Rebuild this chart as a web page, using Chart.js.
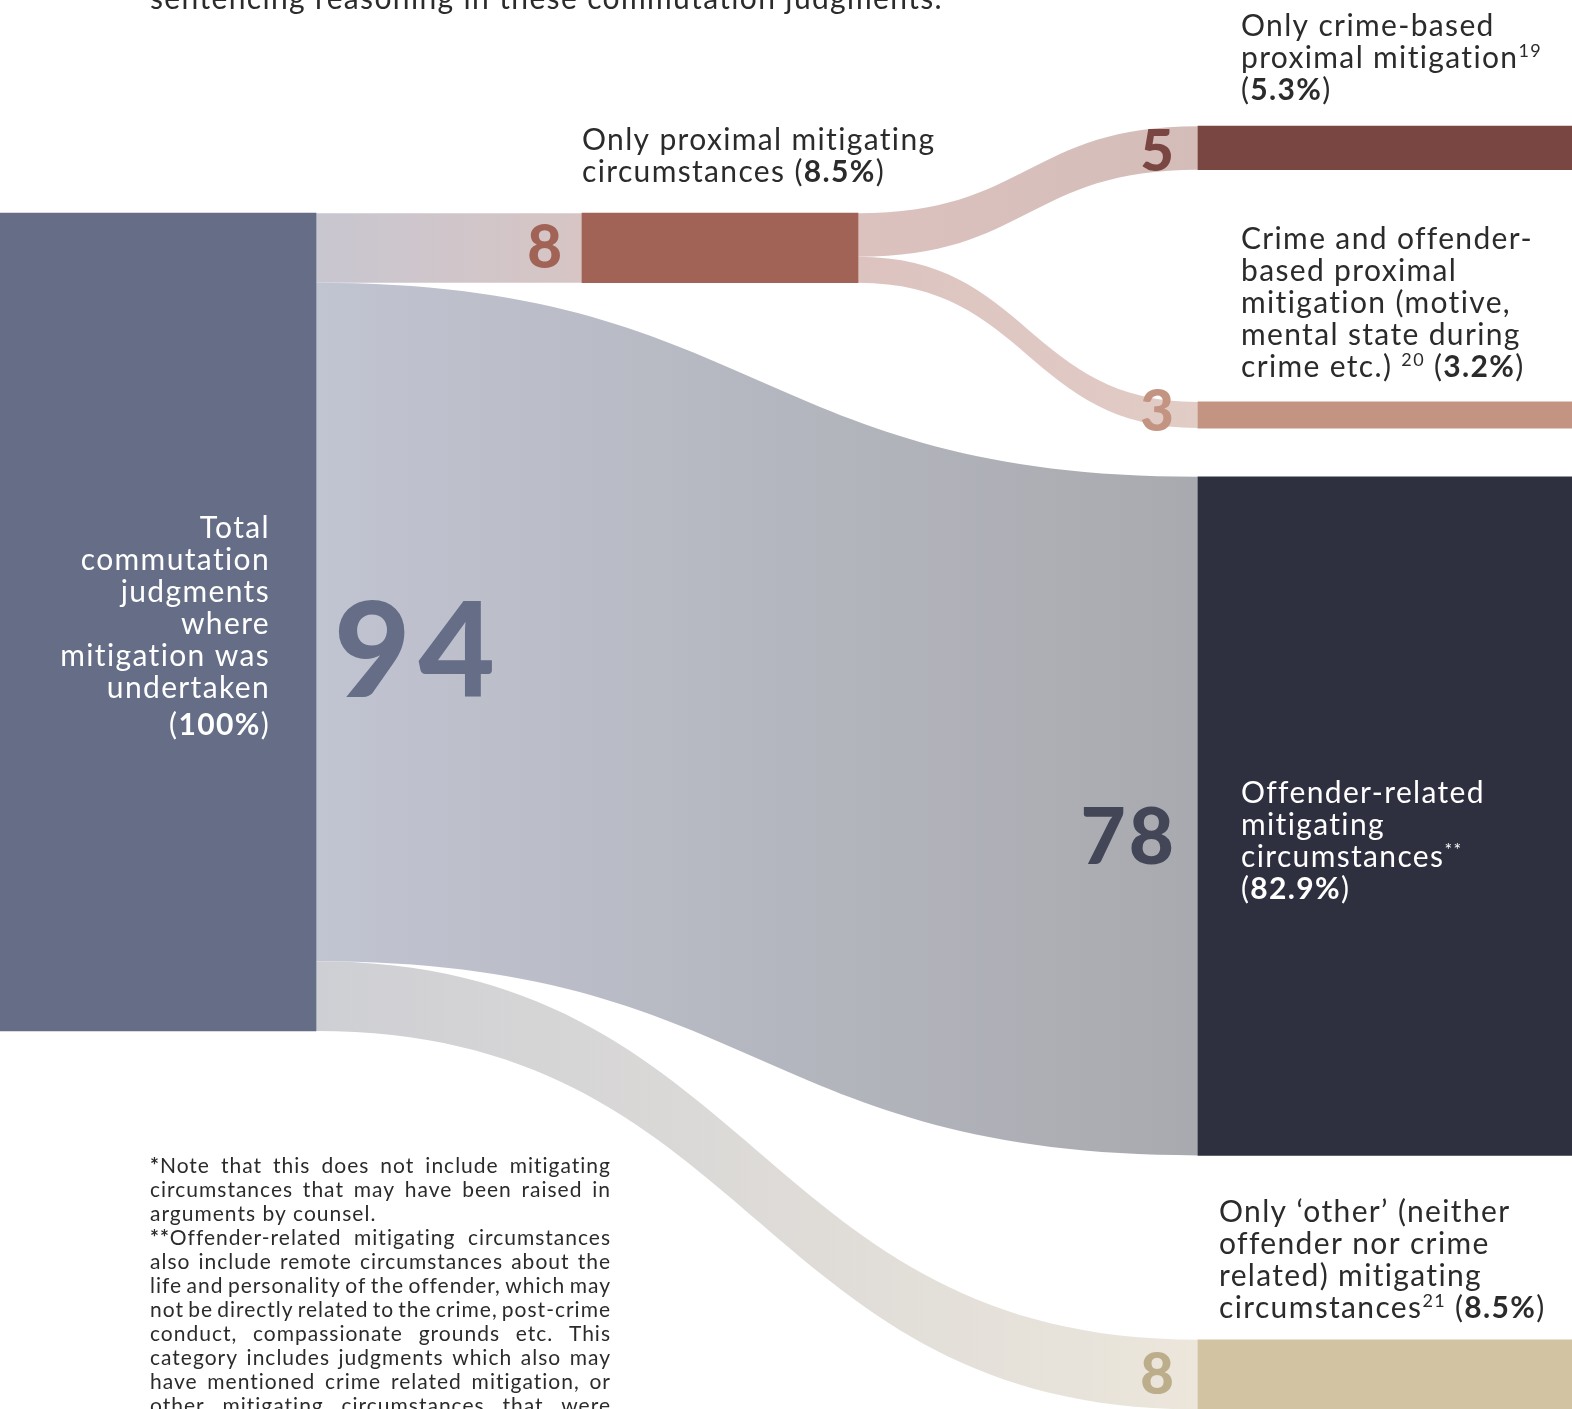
<!DOCTYPE html>
<html>
<head>
<meta charset="utf-8">
<script src="https://cdn.jsdelivr.net/npm/chart.js@4.4.1/dist/chart.umd.min.js"></script>
<style>
  html, body { margin: 0; padding: 0; background: #fff; overflow: hidden; }
  #wrap { position: relative; width: 1572px; height: 1409px; }
</style>
</head>
<body>
<div id="wrap"><canvas id="sankey"></canvas></div>
<script>
// ---- data ----
const nodeNames = [
  "Total commutation judgments where mitigation was undertaken",
  "Only proximal mitigating circumstances",
  "Only crime-based proximal mitigation",
  "Crime and offender-based proximal mitigation",
  "Offender-related mitigating circumstances",
  "Only other mitigating circumstances",
];
const nodeValues = [94, 8, 5, 3, 78, 8];
const flowFrom = [0, 0, 0, 1, 1];
const flowTo = [1, 4, 5, 2, 3];
const flowValues = [8, 78, 8, 5, 3];

// ---- layout (positions in count units / layout units) ----
const nodeColumn = [0, 1, 2, 2, 2, 2];
const nodeTop = [0, 0, -10, 21.7, 30.3, 129.5];
const columnLeft = [0, 582, 1198];
const columnWidth = [316, 276, 374];
const yRange = [-24.5, 137.45];

// ---- styles ----
const nodeColors = ["#656d87", "#a26357", "#7a4642", "#c49482", "#2e3040", "#d2c4a2"];
const flowColors = [
  ["#c8c6d0", "#d7c5c4"],
  ["#c1c4d1", "#a9aaaf"],
  ["#cecfd4", "#ece6db"],
  ["#dbc2be", "#d4bcb9"],
  ["#dcc3bf", "#e2ccc6"],
];
const numberColors = ["#656d87", "#a26357", "#7a4642", "#c49482", "#424656", "#bcae8a"];
const numberSize = [132, 60, 58, 58, 78, 58];
const numberSpacing = [8, 0, 0, 0, 3, 0];
const numberDy = [26, -2, 2, -5, 19, -2];

const FONT = "Lato";
const NUM_FONT = "Lato";
const TEXT = "#2b2b2b";

const labels = [
  { x: 150, y: 9, align: "left", color: TEXT, lines: ["sentencing reasoning in these commutation judgments."] },
  { x: 582, y: 150, align: "left", color: TEXT, lines: ["Only proximal mitigating", "circumstances (<b>8.5%</b>)"] },
  { x: 1241, y: 36, align: "left", color: TEXT, lines: ["Only crime-based", "proximal mitigation<sup>19</sup>", "(<b>5.3%</b>)"] },
  { x: 1241, y: 249, align: "left", color: TEXT, lines: ["Crime and offender-", "based proximal", "mitigation (motive,", "mental state during", "crime etc.) <sup>20</sup> (<b>3.2%</b>)"] },
  { x: 270, y: 538, align: "right", color: "#ffffff", lines: ["Total", "commutation", "judgments", "where", "mitigation was", "undertaken", "(<b>100%</b>)"], lastGap: 5 },
  { x: 1241, y: 803, align: "left", color: "#ffffff", lines: ["Offender-related", "mitigating", "circumstances<sup>**</sup>", "(<b>82.9%</b>)"] },
  { x: 1219, y: 1222, align: "left", color: TEXT, lines: ["Only ‘other’ (neither", "offender nor crime", "related) mitigating", "circumstances<sup>21</sup> (<b>8.5%</b>)"] },
];

const footnote = [
  ["*Note that this does not include mitigating", true],
  ["circumstances that may have been raised in", true],
  ["arguments by counsel.", false],
  ["**Offender-related mitigating circumstances", true],
  ["also include remote circumstances about the", true],
  ["life and personality of the offender, which may", true],
  ["not be directly related to the crime, post-crime", true],
  ["conduct, compassionate grounds etc. This", true],
  ["category includes judgments which also may", true],
  ["have mentioned crime related mitigation, or", true],
  ["other mitigating circumstances that were", true],
];

const LABEL_SIZE = 30;
const LABEL_SPACING = "1.35px";
const NOTE_SPACING = "1px";
const LINE_H = 32;

function parseRich(line) {
  const out = [];
  const re = /<(b|sup)>(.*?)<\/\1>/g;
  let last = 0, m;
  while ((m = re.exec(line))) {
    if (m.index > last) out.push({ t: line.slice(last, m.index), s: "" });
    out.push({ t: m[2], s: m[1] });
    last = re.lastIndex;
  }
  if (last < line.length) out.push({ t: line.slice(last), s: "" });
  return out;
}

function segFont(s, size) {
  if (s === "b") return "700 " + size + "px " + FONT;
  if (s === "sup") return "400 " + Math.round(size * 0.6) + "px " + FONT;
  return "400 " + size + "px " + FONT;
}

function drawRich(ctx, line, x, y, align, size, color) {
  const segs = parseRich(line);
  ctx.letterSpacing = LABEL_SPACING;
  let total = 0;
  segs.forEach(sg => {
    ctx.font = segFont(sg.s, size);
    sg.w = ctx.measureText(sg.t).width;
    total += sg.w;
  });
  let cx = align === "right" ? x - total : x;
  ctx.fillStyle = color;
  ctx.textAlign = "left";
  ctx.textBaseline = "alphabetic";
  segs.forEach(sg => {
    ctx.font = segFont(sg.s, size);
    ctx.fillText(sg.t, cx, sg.s === "sup" ? y - size * 0.38 : y);
    cx += sg.w;
  });
  ctx.letterSpacing = "0px";
}

function drawJustified(ctx, text, x, y, width, justify, size) {
  ctx.letterSpacing = NOTE_SPACING;
  const words = text.split(" ");
  const parts = words.map(w => {
    const m = w.match(/^(\*+)(.*)$/);
    return m ? [[m[1], true], [m[2], false]] : [[w, false]];
  });
  const widths = parts.map(p => p.reduce((acc, [t, b]) => {
    ctx.font = (b ? "700 " : "400 ") + size + "px " + FONT;
    return acc + ctx.measureText(t).width;
  }, 0));
  ctx.font = "400 " + size + "px " + FONT;
  const spaceW = ctx.measureText(" ").width;
  const sum = widths.reduce((a, b) => a + b, 0);
  const gap = justify && words.length > 1 ? (width - sum) / (words.length - 1) : spaceW;
  let cx = x;
  parts.forEach(p => {
    p.forEach(([t, b]) => {
      ctx.font = (b ? "700 " : "400 ") + size + "px " + FONT;
      ctx.fillText(t, cx, y);
      cx += ctx.measureText(t).width;
    });
    cx += gap;
  });
  ctx.letterSpacing = "0px";
}

const sankeyFlows = {
  id: "sankeyFlows",
  beforeDatasetsDraw(chart) {
    const { ctx, scales: { x, y } } = chart;
    const outOff = nodeValues.map(() => 0);
    const inOff = nodeValues.map(() => 0);
    ctx.save();
    flowValues.forEach((v, k) => {
      const s = flowFrom[k], t = flowTo[k];
      const cs = nodeColumn[s], ct = nodeColumn[t];
      const x0 = x.getPixelForValue(columnLeft[cs] + columnWidth[cs]);
      const x1 = x.getPixelForValue(columnLeft[ct]);
      const s0 = y.getPixelForValue(nodeTop[s] + outOff[s]);
      const s1 = y.getPixelForValue(nodeTop[s] + outOff[s] + v);
      const t0 = y.getPixelForValue(nodeTop[t] + inOff[t]);
      const t1 = y.getPixelForValue(nodeTop[t] + inOff[t] + v);
      outOff[s] += v;
      inOff[t] += v;
      const xm = (x0 + x1) / 2;
      const g = ctx.createLinearGradient(x0, 0, x1, 0);
      g.addColorStop(0, flowColors[k][0]);
      g.addColorStop(1, flowColors[k][1]);
      ctx.fillStyle = g;
      ctx.beginPath();
      ctx.moveTo(x0, s0);
      ctx.bezierCurveTo(xm, s0, xm, t0, x1, t0);
      ctx.lineTo(x1, t1);
      ctx.bezierCurveTo(xm, t1, xm, s1, x0, s1);
      ctx.closePath();
      ctx.fill();
    });
    ctx.restore();
  },
  afterDatasetsDraw(chart) {
    const { ctx, scales: { x, y } } = chart;
    ctx.save();
    // node numbers
    nodeValues.forEach((v, i) => {
      const c = nodeColumn[i];
      const cy = y.getPixelForValue(nodeTop[i] + v / 2) + numberDy[i];
      ctx.font = "900 " + numberSize[i] + "px " + NUM_FONT;
      ctx.letterSpacing = numberSpacing[i] + "px";
      ctx.fillStyle = numberColors[i];
      ctx.textBaseline = "alphabetic";
      ctx.textAlign = "left";
      const txt = String(v);
      const m = ctx.measureText(txt);
      const w = m.width - numberSpacing[i];
      const base = cy + m.actualBoundingBoxAscent / 2;
      let left;
      if (c === 0) {
        left = x.getPixelForValue(columnLeft[c] + columnWidth[c]) + 18;
      } else {
        left = x.getPixelForValue(columnLeft[c]) - (c === 1 ? 20 : 24) - w;
      }
      ctx.fillText(txt, left, base);
      ctx.letterSpacing = "0px";
    });
    // labels
    labels.forEach(lb => {
      lb.lines.forEach((line, j) => {
        let yy = lb.y + j * LINE_H;
        if (lb.lastGap && j === lb.lines.length - 1) yy += lb.lastGap;
        drawRich(ctx, line, lb.x, yy, lb.align, LABEL_SIZE, lb.color);
      });
    });
    // footnote
    ctx.fillStyle = TEXT;
    ctx.textAlign = "left";
    footnote.forEach(([text, just], j) => {
      drawJustified(ctx, text, 150, 1173 + j * 24, 461, just, 21);
    });
    ctx.restore();
  }
};

const datasets = columnLeft.map((left, c) => {
  const idx = nodeValues.map((v, i) => i).filter(i => nodeColumn[i] === c);
  return {
    label: "column " + c,
    data: idx.map(i => ({ x: left + columnWidth[c] / 2, y: [nodeTop[i], nodeTop[i] + nodeValues[i]] })),
    backgroundColor: idx.map(i => nodeColors[i]),
    barThickness: columnWidth[c],
    grouped: false,
    borderWidth: 0,
  };
});

new Chart(document.getElementById("sankey").getContext("2d"), {
  type: "bar",
  data: { datasets: datasets },
  options: {
    responsive: true,
    maintainAspectRatio: false,
    animation: false,
    layout: { padding: 0 },
    plugins: { legend: { display: false }, tooltip: { enabled: false } },
    scales: {
      x: { type: "linear", min: 0, max: 1572, offset: false, display: false },
      y: { type: "linear", min: yRange[0], max: yRange[1], reverse: true, display: false },
    },
  },
  plugins: [sankeyFlows],
});
</script>
</body>
</html>
